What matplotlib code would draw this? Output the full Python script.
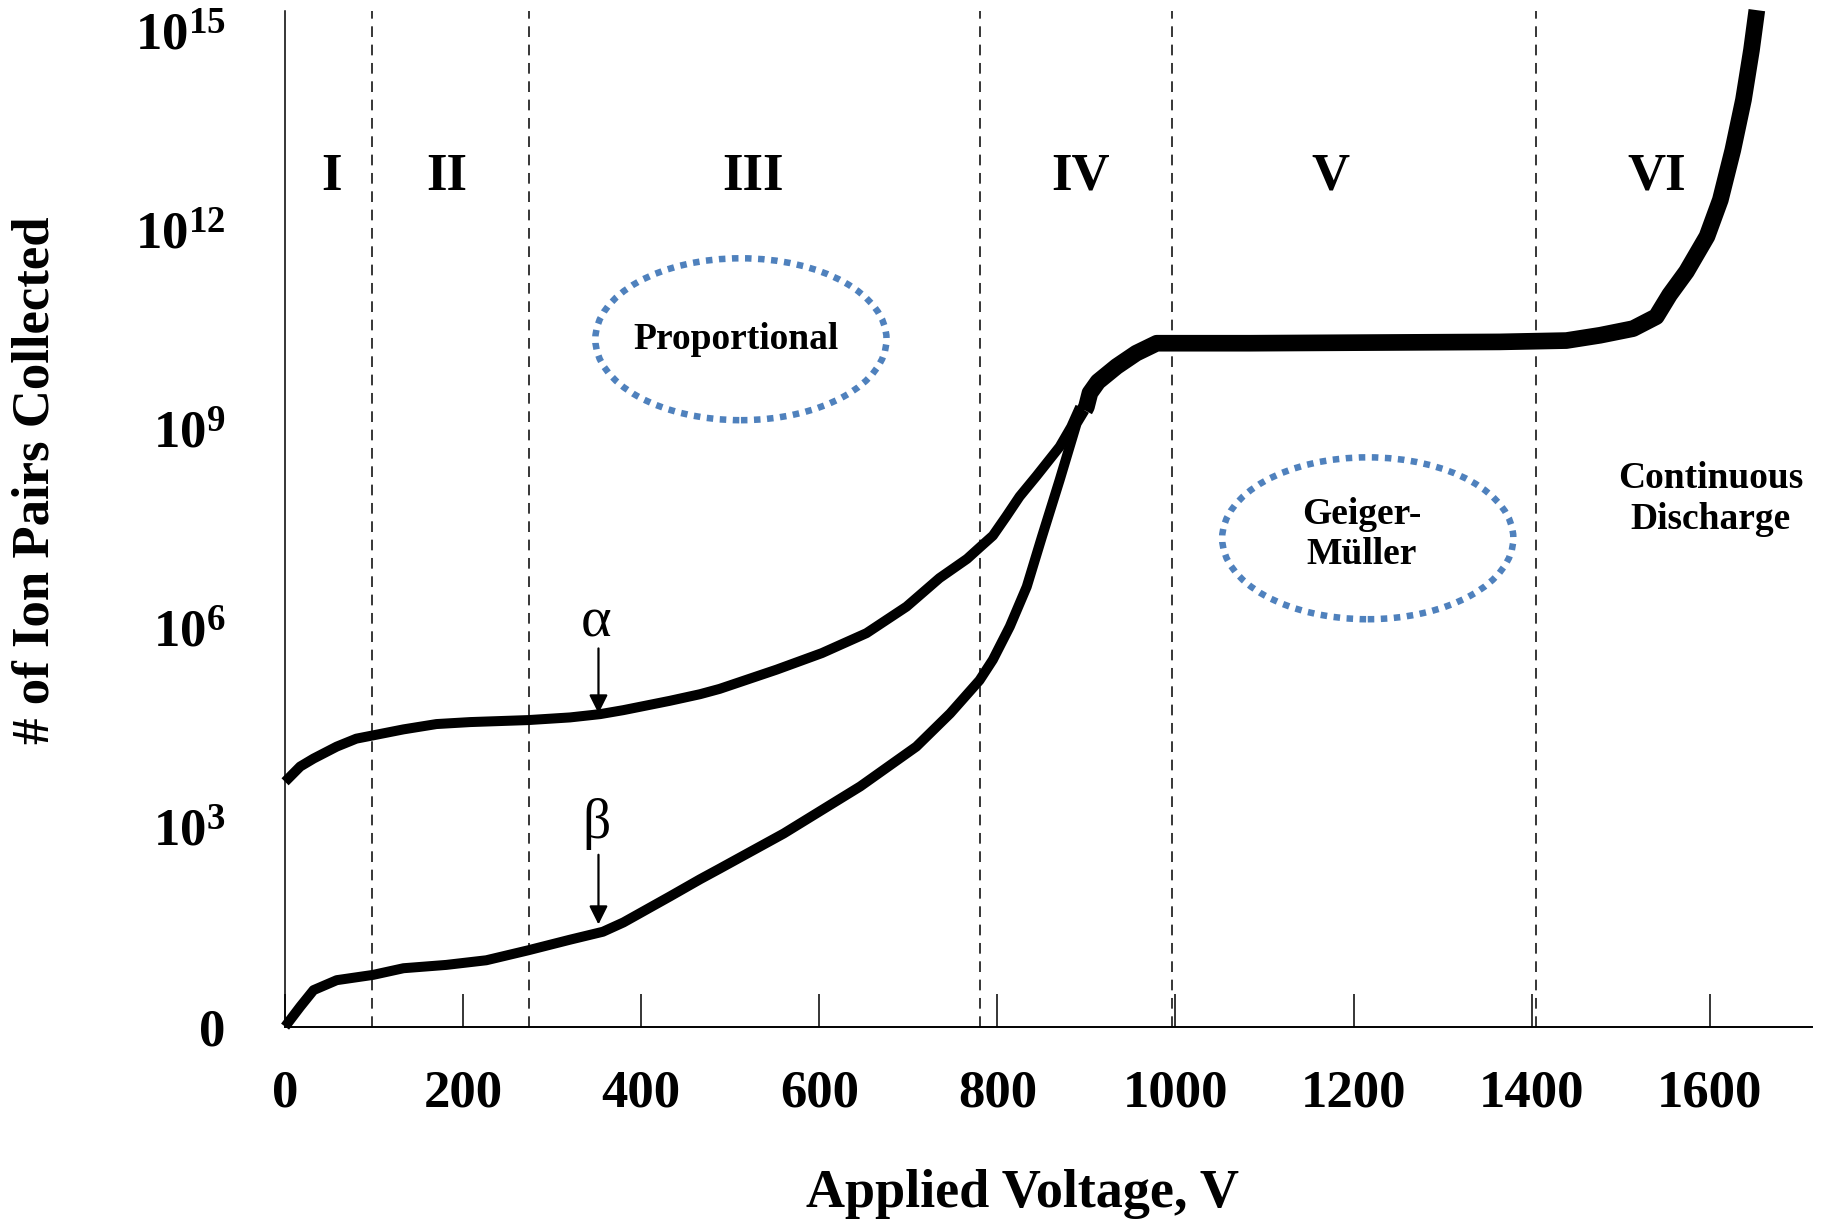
import matplotlib
matplotlib.use("Agg")
import matplotlib.pyplot as plt
from matplotlib.patches import Ellipse

# values: x = applied voltage (V), y = log10(# ion pairs)
x_ticks = [0, 200, 400, 600, 800, 1000, 1200, 1400, 1600]
y_ticks = [0, 3, 6, 9, 12, 15]
y_tick_labels = ['0', '$10^{3}$', '$10^{6}$', '$10^{9}$', '$10^{12}$', '$10^{15}$']

alpha_v = [0, 17, 32, 58, 80, 99, 133, 170, 208, 273, 320, 354, 380, 432, 466,
           488, 552, 603, 653, 698, 735, 766, 780, 795, 810, 825, 844, 870, 883, 893]
alpha_n = [3.69, 3.92, 4.04, 4.22, 4.34, 4.39, 4.48, 4.56, 4.59, 4.62, 4.66, 4.71,
           4.77, 4.91, 5.01, 5.09, 5.38, 5.63, 5.93, 6.33, 6.76, 7.05, 7.22, 7.40,
           7.69, 7.99, 8.30, 8.74, 9.04, 9.34]

beta_v = [0, 17, 32, 58, 99, 133, 181, 226, 273, 320, 357, 380, 432, 466, 488,
          560, 646, 709, 747, 780, 795, 814, 833, 850, 870, 889, 898]
beta_n = [0.0, 0.30, 0.55, 0.70, 0.78, 0.88, 0.93, 1.00, 1.15, 1.31, 1.43, 1.57,
          1.96, 2.22, 2.38, 2.91, 3.62, 4.22, 4.72, 5.22, 5.53, 6.03, 6.63, 7.38,
          8.24, 9.09, 9.29]

# shared part (alpha and beta together) up to continuous discharge
common_v = [898, 900, 904, 913, 934, 956, 979, 1084, 1364, 1439, 1477, 1514,
            1540, 1555, 1574, 1597, 1612, 1626, 1638, 1647, 1653]
common_n = [9.29, 9.34, 9.55, 9.72, 9.95, 10.15, 10.30, 10.30, 10.32, 10.34,
            10.42, 10.52, 10.70, 11.03, 11.38, 11.91, 12.46, 13.21, 13.97, 14.72, 15.32]

boundaries = [98, 274, 780, 996, 1405]
regions = ['I', 'II', 'III', 'IV', 'V', 'VI']
region_v = [52, 182, 526, 893, 1174, 1540]

plt.rcParams['font.family'] = ['Liberation Serif', 'DejaVu Serif']
plt.rcParams['font.weight'] = 'bold'
plt.rcParams['mathtext.fontset'] = 'custom'
plt.rcParams['mathtext.bf'] = 'Liberation Serif:bold'
plt.rcParams['mathtext.rm'] = 'Liberation Serif:bold'
plt.rcParams['mathtext.default'] = 'bf'

fig = plt.figure(figsize=(18.25, 12.21), dpi=100)
ax = fig.add_axes([0.1562, 0.1592, 0.8367, 0.8314])

for b in boundaries:
    ax.axvline(b, color='k', lw=1.1, linestyle=(0, (7, 5)), zorder=1)

line_kw = dict(color='k', solid_capstyle='butt', solid_joinstyle='round', clip_on=False, zorder=3)
ax.plot(alpha_v, alpha_n, lw=7.2, **line_kw)
ax.plot(beta_v, beta_n, lw=7.2, **line_kw)
ax.plot(common_v, common_n, lw=12, **line_kw)

for lab, v in zip(regions, region_v):
    ax.text(v, 12.81, lab, fontsize=38, fontweight='bold', ha='center', va='center')

blue = '#4F81BD'
ax.add_patch(Ellipse((512, 10.36), 327, 2.44, fill=False, edgecolor=blue, lw=4.7,
                     linestyle=(0, (1, 1))))
ax.add_patch(Ellipse((1216, 7.36), 327, 2.44, fill=False, edgecolor=blue, lw=4.7,
                     linestyle=(0, (1, 1))))
ax.text(507, 10.35, 'Proportional', fontsize=27, ha='center', va='center')
ax.text(1209, 7.42, 'Geiger-\nMüller', fontsize=27, ha='center', va='center', linespacing=1.2)
ax.text(1601, 7.95, 'Continuous\nDischarge', fontsize=27, ha='center', va='center', linespacing=1.2)

ax.text(349, 6.09, 'α', fontsize=42, fontweight='normal', ha='center', va='center')
ax.text(350, 3.06, 'β', fontsize=40, fontweight='normal', ha='center', va='center')
arrow = dict(arrowstyle='-|>', color='k', lw=1.6, mutation_scale=28, shrinkA=0, shrinkB=0)
ax.annotate('', xy=(352, 4.72), xytext=(352, 5.70), arrowprops=arrow)
ax.annotate('', xy=(352, 1.54), xytext=(352, 2.59), arrowprops=arrow)

ax.set_xlim(0, 1715)
ax.set_ylim(0, 15.3)
ax.set_xticks(x_ticks)
ax.set_xticklabels([str(t) for t in x_ticks])
ax.set_yticks(y_ticks)
ax.set_yticklabels(y_tick_labels)
ax.tick_params(axis='x', direction='in', length=24, width=1.1, pad=31, labelsize=38)
ax.tick_params(axis='y', length=0, pad=43, labelsize=38)
for lab in ax.get_xticklabels() + ax.get_yticklabels():
    lab.set_fontweight('bold')

ax.spines['top'].set_visible(False)
ax.spines['right'].set_visible(False)
ax.spines['left'].set_linewidth(1.1)
ax.spines['bottom'].set_linewidth(1.4)

fig.text(0.56, 0.0115, 'Applied Voltage, V', fontsize=39, fontweight='bold',
         ha='center', va='baseline')
fig.text(0.0192, 0.607, '# of Ion Pairs Collected', fontsize=38, fontweight='bold',
         rotation=90, ha='center', va='center')

fig.savefig('out.png', dpi=100)
